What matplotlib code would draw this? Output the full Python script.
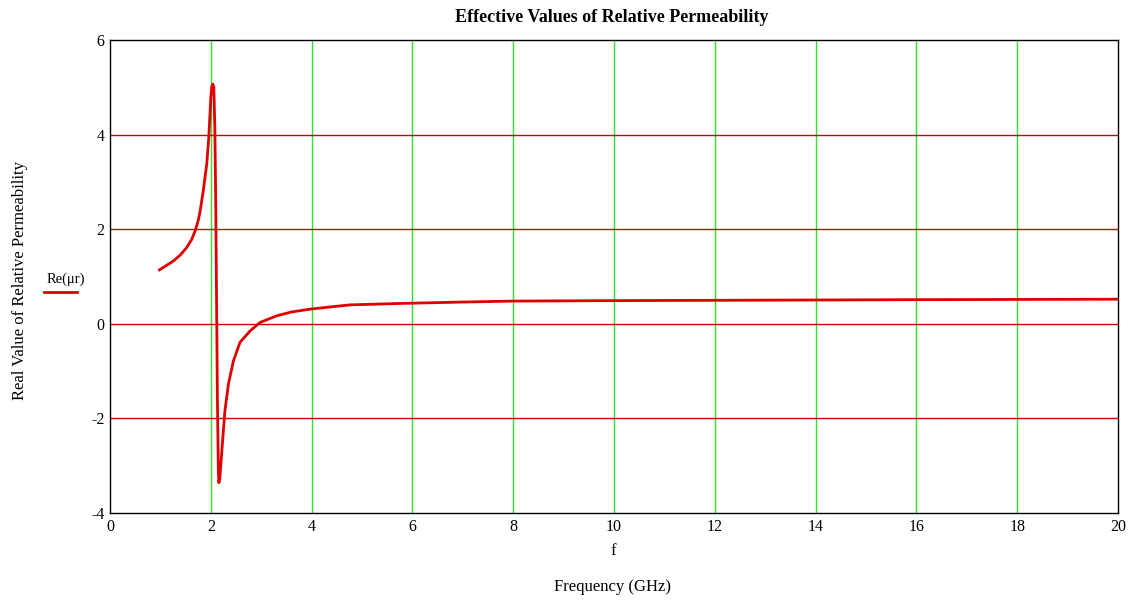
import matplotlib
matplotlib.use("Agg")
import matplotlib.pyplot as plt

plt.rcParams["axes.unicode_minus"] = False

# Data
freq_ghz = [0.98, 1.1, 1.26, 1.4, 1.52, 1.62, 1.69, 1.75, 1.79, 1.85, 1.92, 1.96,
            2.00, 2.02, 2.04, 2.06, 2.08, 2.09, 2.10, 2.11, 2.12, 2.13, 2.15, 2.16,
            2.18, 2.22, 2.25, 2.28, 2.35, 2.45, 2.58, 2.78, 2.98, 3.31, 3.6, 3.97,
            4.4, 4.76, 5.75, 7.0, 8.0, 10.0, 13.0, 16.0, 20.0]
re_mu = [1.14, 1.22, 1.33, 1.46, 1.61, 1.78, 1.97, 2.18, 2.39, 2.81, 3.38, 3.94,
         4.78, 5.02, 5.07, 5.0, 4.15, 3.3, 2.32, 1.0, -0.15, -1.5, -3.1, -3.36,
         -3.25, -2.68, -2.25, -1.84, -1.27, -0.78, -0.39, -0.15, 0.03, 0.17, 0.25, 0.31,
         0.36, 0.40, 0.43, 0.46, 0.48, 0.49, 0.50, 0.51, 0.52]

x_ticks = [0, 2, 4, 6, 8, 10, 12, 14, 16, 18, 20]
y_ticks = [-4, -2, 0, 2, 4, 6]

serif = ["Liberation Serif", "DejaVu Serif"]

fig = plt.figure(figsize=(11.35, 6.01), dpi=100)
ax = fig.add_axes([110/1135, 1-513/601, 1008/1135, 473/601])

# grid lines
for xv in x_ticks[1:-1]:
    ax.axvline(xv, color="#33dd33", lw=1.0, zorder=1)
for yv in y_ticks[1:-1]:
    ax.axhline(yv, color="#cc0000", lw=1.0, zorder=1)

ax.plot(freq_ghz, re_mu, color="#e00000", lw=2.0, zorder=3)

ax.set_xlim(0, 20)
ax.set_ylim(-4, 6)
ax.set_xticks(x_ticks)
ax.set_yticks(y_ticks)
ax.tick_params(length=0, pad=4, labelsize=11.5)
for lab in ax.get_xticklabels() + ax.get_yticklabels():
    lab.set_family(serif)
for s in ax.spines.values():
    s.set_color("black")
    s.set_linewidth(1.0)

fig.text(612/1135, 1-17/601, "Effective Values of Relative Permeability",
         ha="center", va="center", fontsize=13, fontweight="bold", family=serif)
fig.text(613/1135, 1-551/601, "f", ha="center", va="center", fontsize=12, family=serif)
fig.text(612/1135, 1-587/601, "Frequency (GHz)", ha="center", va="center",
         fontsize=12, family=serif)
fig.text(20/1135, 1-280/601, "Real Value of Relative Permeability", ha="center",
         va="center", rotation=90, fontsize=12, family=serif)
fig.text(66/1135, 1-279/601, "Re(\u03bcr)", ha="center", va="center",
         fontsize=10.5, family=serif)
fig.add_artist(plt.Line2D([44/1135, 77/1135], [1-292/601, 1-292/601],
                          color="#e00000", lw=2.0))

fig.savefig("out.png", dpi=100)
